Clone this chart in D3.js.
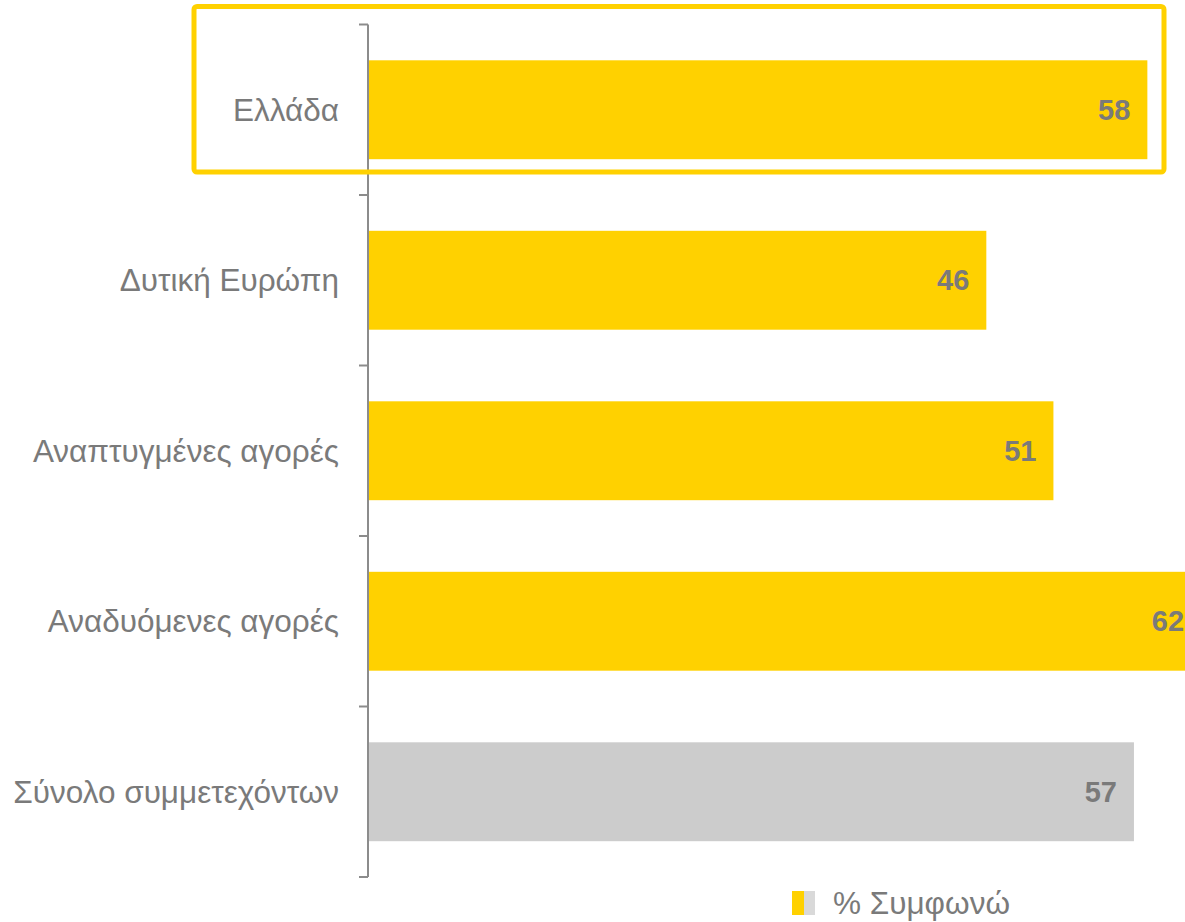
<!DOCTYPE html>
<html>
<head>
<meta charset="utf-8">
<script src="https://cdn.jsdelivr.net/npm/d3@7"></script>
<style>
  body { margin: 0; background: #fff; }
  svg { display: block; font-family: "Liberation Sans", Arial, sans-serif; }
</style>
</head>
<body>
<div id="chart"></div>
<script>
var width = 1185, height = 922;

var categories = ["Ελλάδα", "Δυτική Ευρώπη", "Αναπτυγμένες αγορές", "Αναδυόμενες αγορές", "Σύνολο συμμετεχόντων"];
var values = [58, 46, 51, 62, 57];
var barColors = ["#FFD100", "#FFD100", "#FFD100", "#FFD100", "#CCCCCC"];
var legendLabel = "% Συμφωνώ";

var yellow = "#FFD100",
	textGrey = "#7a7a7a",
	axisGrey = "#8c8c8c";

var svg = d3.select("#chart").append("svg")
	.attr("width", width)
	.attr("height", height);

var data = categories.map(function(c, i) { return {cat: c, value: values[i], color: barColors[i]}; });

//Scales
var x = d3.scaleLinear()
	.domain([0, 100])
	.range([369, 1711]);

var y = d3.scaleBand()
	.domain(categories)
	.range([24.5, 877])
	.paddingInner(0.42)
	.paddingOuter(0.21);

//Bars
svg.selectAll(".bar")
	.data(data)
	.enter().append("rect")
	.attr("class", "bar")
	.attr("x", x(0))
	.attr("y", function(d) { return y(d.cat); })
	.attr("width", function(d) { return x(d.value) - x(0); })
	.attr("height", y.bandwidth())
	.style("fill", function(d) { return d.color; });

//Value labels inside the bars
svg.selectAll(".value")
	.data(data)
	.enter().append("text")
	.attr("class", "value")
	.attr("x", function(d) { return x(d.value) - 17; })
	.attr("y", function(d) { return y(d.cat) + y.bandwidth() / 2; })
	.attr("dy", "0.35em")
	.style("text-anchor", "end")
	.style("font-size", "29px")
	.style("font-weight", "bold")
	.style("fill", textGrey)
	.text(function(d) { return d.value; });

//Axis line and ticks at band boundaries
var step = y.step();
var tickPos = categories.map(function(c) { return y(c) - step * y.paddingInner() / 2; });
tickPos.push(y.range()[1]);

svg.append("line")
	.attr("x1", 368).attr("x2", 368)
	.attr("y1", tickPos[0]).attr("y2", tickPos[tickPos.length - 1])
	.style("stroke", axisGrey)
	.style("stroke-width", 2);

svg.selectAll(".tick")
	.data(tickPos)
	.enter().append("line")
	.attr("class", "tick")
	.attr("x1", 359).attr("x2", 368)
	.attr("y1", function(d) { return d; })
	.attr("y2", function(d) { return d; })
	.style("stroke", axisGrey)
	.style("stroke-width", 2);

//Category labels
svg.selectAll(".cat")
	.data(data)
	.enter().append("text")
	.attr("class", "cat")
	.attr("x", 339)
	.attr("y", function(d) { return y(d.cat) + y.bandwidth() / 2; })
	.attr("dy", "0.35em")
	.style("text-anchor", "end")
	.style("font-size", "31.5px")
	.style("fill", textGrey)
	.text(function(d) { return d.cat; });

//Highlight box round the first category
svg.append("rect")
	.attr("x", 194)
	.attr("y", 6.5)
	.attr("width", 1164 - 194)
	.attr("height", 172 - 6.5)
	.attr("rx", 3)
	.style("fill", "none")
	.style("stroke", yellow)
	.style("stroke-width", 5);

//Legend
var legend = svg.append("g").attr("transform", "translate(792,891)");
legend.append("rect").attr("width", 12).attr("height", 24).style("fill", yellow);
legend.append("rect").attr("x", 12).attr("width", 11).attr("height", 24).style("fill", "#D9D9D9");
legend.append("text")
	.attr("x", 41)
	.attr("y", 12)
	.attr("dy", "0.35em")
	.style("font-size", "31.5px")
	.style("fill", textGrey)
	.text(legendLabel);
</script>
</body>
</html>
